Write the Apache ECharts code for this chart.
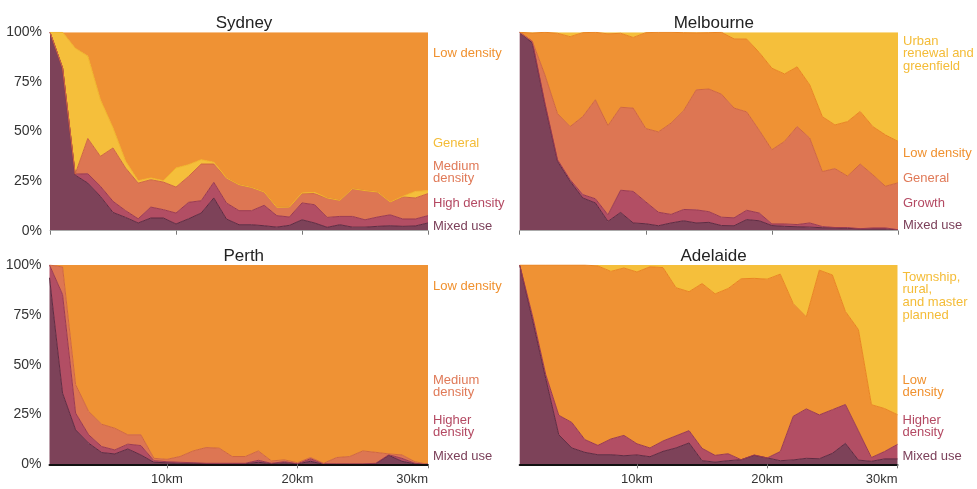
<!DOCTYPE html>
<html><head><meta charset="utf-8">
<script src="https://cdn.jsdelivr.net/npm/echarts@6/dist/echarts.min.js"></script>
<style>html,body{margin:0;padding:0;background:#fff}#c{width:977px;height:489px}</style>
</head><body><div id="c"></div>
<script>
// ---- categories (km from CBD) ----
const kmTop = [0,1,2,3,4,5,6,7,8,9,10,11,12,13,14,15,16,17,18,19,20,21,22,23,24,25,26,27,28,29,30];
const kmBottom = [1,2,3,4,5,6,7,8,9,10,11,12,13,14,15,16,17,18,19,20,21,22,23,24,25,26,27,28,29,30];
const xTickKm = [0,10,20,30];
const yTickLabels = ['0%','25%','50%','75%','100%'];

// ---- Sydney (share of zoned land, %) ----
const sydMixed   = [100,82,28,24,17.3,9.2,6.7,3.9,6.4,6.4,3.4,6,8.9,16.5,5.9,3,3,2.5,1.8,2.7,5.5,3.9,1.7,3,1.8,1.8,2.2,2.5,2.2,2.4,3.9];
const sydHigh    = [0,0,0.5,4.7,5.1,5.6,3.4,2.1,5.5,4.2,5.5,8.3,6.2,7.9,8.1,7.1,7.1,10.3,5.8,4.2,8.5,9.2,5,4.2,5.4,3.7,4.7,5.5,3.7,3.5,3.7];
const sydMedium  = [0,0,0,17.8,15.1,26.9,21.5,18,13.8,13.9,13.1,13.1,18.5,9.2,12.6,13.1,11.7,6.7,4.2,5,4.7,5.6,9.8,8.1,14,14.7,12.6,6.5,11.1,10.6,11.1];
const sydGeneral = [0,18,63.5,41.5,28.5,10.1,3.4,1.2,0.9,0.7,9.6,5.9,2.2,0.9,0,0,0,0,0,0,0.3,0.6,0,0,0,0,0,0,0.3,3.3,1.5];
const sydLow     = [0,0,8,12,34,48.2,65,74.8,73.4,74.8,68.4,66.7,64.2,65.5,73.4,76.8,78.2,80.5,88.2,88.1,81,80.7,83.5,84.7,78.8,79.8,80.5,85.5,82.7,80.2,79.8];

// ---- Melbourne ----
const melMixed   = [100,94.6,63.5,35,24.9,16.5,14,4.7,9.2,3.9,3.5,2.5,3.9,5,3.9,4.2,2.6,2.5,5.6,5,2.6,2.2,2,1.8,1.5,1.5,1.2,0.9,0.9,0.9,0.4];
const melGrowth  = [0,0.9,0.9,0.8,0.8,1.7,2.1,3.3,11.2,15.9,11,6.8,4.3,5.7,6.6,5.4,4.2,4,4.7,3.9,0.8,1.2,1.1,2.1,0.6,0.1,0.4,0.1,0.5,0.5,0.1];
const melGeneral = [0,0,14.1,23.2,26.8,39.3,49.9,45,41.8,42,37,40.5,46,49.8,60.5,61.8,62,55.3,49.6,41.7,37.4,41.6,49.4,42.8,27.7,29.7,25.9,32.6,26.8,21,23.6];
const melLow     = [0,4.1,21.5,40.5,45.3,42.3,34,46.2,37.3,35.6,48.3,50.2,45.8,39.3,28.7,28.4,31.2,34.9,36.7,39.2,41.1,34,30.1,26.8,27.7,22,27.5,26.5,24.3,25.9,20.9];
const melUrban   = [0,0.4,0,0.5,2.2,0.2,0,0.8,0.5,2.6,0.2,0,0,0.2,0.3,0.2,0,3.3,3.4,10.2,18.1,21,17.4,26.5,42.5,46.7,45,39.9,47.5,51.7,55];

// ---- Perth ----
const perMixed  = [93.6,35.7,17.3,10.6,5.9,5.2,7.7,4.7,1,0.8,0.5,0.5,0.3,0.2,0.3,0.3,1,0.3,0.8,0.2,1.5,0,0,0,0,0.3,4.5,1.5,0.2,0];
const perHigher = [6.4,49.5,8.4,4.2,3,2,2.4,4.7,0.8,0.5,0.5,0.3,0.2,0.3,0.2,0.2,1,0.2,0.5,0.1,1.3,0.3,0.2,0.2,0.2,0.2,0.3,1.5,0.3,0];
const perMedium = [0,13.8,14.3,11.7,11.2,10.9,4.7,5.4,1.2,1.2,2.9,5.9,7.9,7.6,3.4,3.4,4.7,1.2,0.9,0.5,0.6,0.2,3.2,3.7,6.5,5.5,0.4,1.7,0.8,0];
const perLow    = [0,1,60,73.5,79.9,81.9,85.2,85.2,97,97.5,96.1,93.3,91.6,91.9,96.1,96.1,93.3,98.3,97.8,99.2,96.6,99.5,96.6,96.1,93.3,94,94.8,95.3,98.7,100];

// ---- Adelaide ----
const adeMixed    = [100,72,43,14.8,8.2,6,4.8,4.8,4.3,4.7,3.8,6.5,8.2,10.7,1.8,1.1,1.8,2.3,4.5,3.2,1.8,2.2,3,2.8,5.5,10.5,2.1,1.5,2.7,2.7];
const adeHigher   = [0,2,2,9.8,12.8,6.4,4.7,7.9,10.2,5.6,4.4,5.2,6.1,6.2,6.2,3.4,3.5,0,0.2,0,4.6,21.9,24.8,22,21.9,19.5,14.7,1.9,3.7,7.3];
const adeLow      = [0,26,55,75.4,79,87.6,90,84.1,84,86.2,90.9,87,74.3,69.7,82.7,81,82.9,90.8,88.6,89.7,89,56.5,46.2,72.6,67.6,46.7,50.8,26.5,21.6,14.9];
const adeTownship = [0,0,0,0,0,0,0.5,3.2,1.5,3.5,0.9,1.3,11.4,13.4,9.3,14.5,11.8,6.9,6.7,7.1,4.6,19.4,26,2.6,5,23.3,32.4,70.1,72,75.1];

// ---- styling ----
const FONT = 'Liberation Sans, Arial, Helvetica, sans-serif';
const C = {
  dark:   {fill:'#7d4259', line:'#5e2b42', text:'#7b3f59'},
  crimson:{fill:'#b24e64', line:'#9a3a51', text:'#b44a63'},
  salmon: {fill:'#dd7653', line:'#cf6642', text:'#e07a58'},
  orange: {fill:'#ef9234', line:'#e98422', text:'#f0912f'},
  yellow: {fill:'#f5bf3b', line:'#f0b42b', text:'#f4bc37'}
};

const grids = [
  {left:50,    top:32.3, width:378,   height:198.4},
  {left:519.7, top:32.3, width:378.3, height:198.4},
  {left:49.5,  top:265,  width:378.5, height:199.3},
  {left:519.7, top:265,  width:377.8, height:199.3}
];

const charts = [
  {name:'Sydney', km:kmTop, bottom:false, left:true,
   series:[['Mixed use',sydMixed,'dark'],['High density',sydHigh,'crimson'],['Medium density',sydMedium,'salmon'],['General',sydGeneral,'yellow'],['Low density',sydLow,'orange']],
   labels:[[['Low density'],'orange',53],[['General'],'yellow',143],[['Medium','density'],'salmon',166],[['High density'],'crimson',203],[['Mixed use'],'dark',226]]},
  {name:'Melbourne', km:kmTop, bottom:false, left:false,
   series:[['Mixed use',melMixed,'dark'],['Growth',melGrowth,'crimson'],['General',melGeneral,'salmon'],['Low density',melLow,'orange'],['Urban renewal and greenfield',melUrban,'yellow']],
   labels:[[['Urban','renewal and','greenfield'],'yellow',41],[['Low density'],'orange',153],[['General'],'salmon',178],[['Growth'],'crimson',203],[['Mixed use'],'dark',225]]},
  {name:'Perth', km:kmBottom, bottom:true, left:true,
   series:[['Mixed use',perMixed,'dark'],['Higher density',perHigher,'crimson'],['Medium density',perMedium,'salmon'],['Low density',perLow,'orange']],
   labels:[[['Low density'],'orange',286],[['Medium','density'],'salmon',380],[['Higher','density'],'crimson',420],[['Mixed use'],'dark',456]]},
  {name:'Adelaide', km:kmBottom, bottom:true, left:false,
   series:[['Mixed use',adeMixed,'dark'],['Higher density',adeHigher,'crimson'],['Low density',adeLow,'orange'],['Township, rural, and master planned',adeTownship,'yellow']],
   labels:[[['Township,','rural,','and master','planned'],'yellow',277],[['Low','density'],'orange',380],[['Higher','density'],'crimson',420],[['Mixed use'],'dark',456]]}
];

const isTick = (i, v) => xTickKm.indexOf(Number(v)) >= 0;

const option = {
  animation:false,
  backgroundColor:'#ffffff',
  textStyle:{fontFamily:FONT},
  title: charts.map((c,i)=>({
    text:c.name, left: grids[i].left + grids[i].width/2, top: grids[i].top - 22, textAlign:'center',
    textStyle:{fontFamily:FONT, fontSize:17, fontWeight:'normal', color:'#222'}
  })),
  grid: grids,
  xAxis: charts.map((c,i)=>({
    type:'category', gridIndex:i, data:c.km, boundaryGap:false, z:10,
    axisLine:{show:true, lineStyle:{color:c.bottom?'#111':'#aaa', width:c.bottom?2:1}},
    axisTick:{show:true, interval:isTick, length:4, lineStyle:{color:'#777'}},
    axisLabel:{show:c.bottom, interval:isTick, formatter:v=>v+'km', fontFamily:FONT, fontSize:13, color:'#333', margin:9, alignMaxLabel:'right'},
    splitLine:{show:false}
  })),
  yAxis: charts.map((c,i)=>({
    type:'value', gridIndex:i, min:0, max:100, interval:25,
    axisLine:{show:false}, axisTick:{show:false}, splitLine:{show:false},
    axisLabel:{show:c.left, formatter:v=>yTickLabels[v/25], fontFamily:FONT, fontSize:14, color:'#333', margin:8}
  })),
  series: [],
  graphic: []
};

charts.forEach((c,i)=>{
  c.series.forEach((s,j)=>{
    const col = C[s[2]];
    const isTop = j === c.series.length-1;
    option.series.push({
      type:'line', name:s[0], xAxisIndex:i, yAxisIndex:i, stack:c.name, data:s[1],
      symbol:'none', smooth:false,
      lineStyle:{color:col.line, width:isTop?0:1},
      itemStyle:{color:col.fill},
      areaStyle:{color:col.fill, opacity:1}
    });
  });
  const lx = grids[i].left + grids[i].width + 5;
  c.labels.forEach(l=>{
    l[0].forEach((line,k)=>{
      option.graphic.push({
        type:'text', x:lx, y:l[2] + k*12.7, silent:true,
        style:{text:line, fill:C[l[1]].text, font:'13px '+FONT, textVerticalAlign:'middle', textAlign:'left'}
      });
    });
  });
});

const chart = echarts.init(document.getElementById('c'), null, {renderer:'canvas'});
chart.setOption(option);
</script>
</body></html>
